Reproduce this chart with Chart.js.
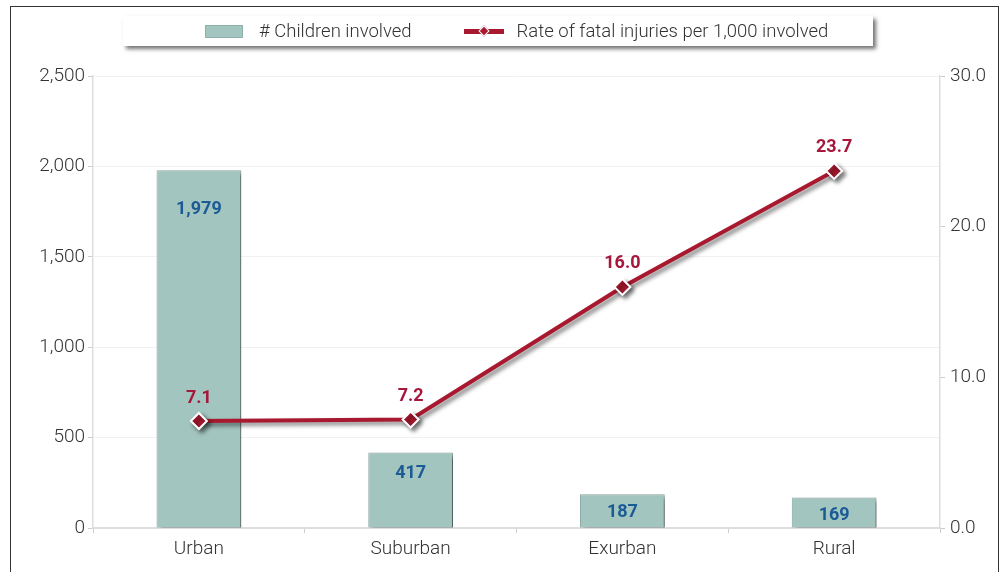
<!DOCTYPE html>
<html>
<head>
<meta charset="utf-8">
<script src="https://cdn.jsdelivr.net/npm/chart.js@4.4.1/dist/chart.umd.min.js"></script>
<style>
  body { margin: 0; background: #fff; font-family: Roboto, 'Noto Sans', sans-serif; }
  #wrap { position: relative; width: 1005px; height: 572px; overflow: hidden; }
  #frame { position: absolute; left: 10px; top: 6px; width: 989px; height: 600px; border: 1.5px solid #333; box-sizing: border-box; pointer-events: none; }
  #legend { position: absolute; left: 123px; top: 16px; width: 750px; height: 30px; background: #fff;
            box-shadow: 3px 3px 4px rgba(0,0,0,0.55); display: flex; align-items: center; padding-left: 82px; box-sizing: border-box;
            font-size: 18.5px; font-weight: 300; color: #333; white-space: nowrap; }
  .item { display: flex; align-items: center; margin-right: 52px; flex-shrink: 0; }
  .sw-bar { width: 36px; height: 11px; background: #a3c5bf; border: 1px solid #8fb0aa; margin-right: 16px; flex-shrink: 0; }
  .sw-line { position: relative; width: 40px; height: 5px; background: #a8192f; margin-right: 13px; flex-shrink: 0; }
  .sw-line::after { content: ''; position: absolute; left: 16px; top: -2px; width: 6px; height: 6px; background: #a8192f;
                    border: 1px solid #fff; transform: rotate(45deg); }
</style>
</head>
<body>
<div id="wrap">
  <canvas id="chart" width="1005" height="572"></canvas>
  <div id="legend"></div>
  <div id="frame"></div>
</div>
<script>
const categories = ['Urban', 'Suburban', 'Exurban', 'Rural'];
const childrenInvolved = [1979, 417, 187, 169];
const fatalRate = [7.1, 7.2, 16.0, 23.7];
const leftTicks = [0, 500, 1000, 1500, 2000, 2500];
const rightTicks = [0, 10, 20, 30];

const tealFill = '#a3c5bf';
const lineRed = '#a8192f';
const barLabelColor = '#1b5b95';
const lineLabelColor = '#a5173b';
const tickFont = { family: 'Roboto', size: 19, weight: '300' };

// drop shadow behind bars and the line
const shadowPlugin = {
    id: 'shadow',
    beforeDatasetDraw(chart) {
        const ctx = chart.ctx;
        ctx.save();
        ctx.shadowColor = 'rgba(0,0,0,0.5)';
        ctx.shadowBlur = 4;
        ctx.shadowOffsetX = 3;
        ctx.shadowOffsetY = 3;
    },
    afterDatasetDraw(chart) { chart.ctx.restore(); }
};

// value labels
const labelPlugin = {
    id: 'valueLabels',
    afterDatasetsDraw(chart) {
        const ctx = chart.ctx;
        ctx.save();
        ctx.textAlign = 'center';
        ctx.textBaseline = 'middle';
        ctx.font = "bold 18px Roboto";
        chart.data.datasets.forEach((ds, di) => {
            const meta = chart.getDatasetMeta(di);
            meta.data.forEach((el, i) => {
                const v = ds.data[i];
                if (ds.type === 'bar') {
                    const h = el.base - el.y;
                    const off = Math.max(18, Math.min(39, h * 0.28));
                    ctx.fillStyle = barLabelColor;
                    ctx.fillText(v.toLocaleString('en-US'), el.x, el.y + off);
                } else {
                    ctx.fillStyle = lineLabelColor;
                    ctx.fillText(v.toFixed(1), el.x, el.y - 23);
                }
            });
        });
        ctx.restore();
    }
};

const chart = new Chart(document.getElementById('chart'), {
    data: {
        labels: categories,
        datasets: [
            {
                type: 'line', label: 'Rate of fatal injuries per 1,000 involved', data: fatalRate, yAxisID: 'y1', order: 0,
                borderColor: lineRed, borderWidth: 4, pointStyle: 'rectRot', pointRadius: 8, pointHoverRadius: 8,
                pointBackgroundColor: lineRed, pointBorderColor: '#fff', pointBorderWidth: 2, tension: 0
            },
            {
                type: 'bar', label: '# Children involved', data: childrenInvolved, yAxisID: 'y', order: 1,
                backgroundColor: tealFill, borderColor: '#8eaca7', borderWidth: 1,
                barPercentage: 0.4, categoryPercentage: 1
            }
        ]
    },
    options: {
        responsive: false, animation: false,
        layout: { padding: { top: 76, left: 0, right: 0, bottom: 0 } },
        plugins: { legend: { display: false }, tooltip: { enabled: false } },
        scales: {
            x: {
                grid: { offset: true, drawOnChartArea: false, tickLength: 5, tickColor: '#ccc' },
                border: { color: '#ddd', width: 2 },
                ticks: { font: tickFont, color: '#333', padding: 5 },
                afterFit: s => { s.height = 44; }
            },
            y: {
                position: 'left', min: 0, max: 2500,
                afterBuildTicks: s => { s.ticks = leftTicks.map(v => ({ value: v })); },
                grid: { color: '#f1f1f1', tickLength: 5, tickColor: '#ccc' },
                border: { color: '#ddd', width: 1.5 },
                ticks: { font: tickFont, color: '#333', padding: 3, callback: v => v.toLocaleString('en-US') },
                afterFit: s => { s.width = 93; }
            },
            y1: {
                position: 'right', min: 0, max: 30,
                afterBuildTicks: s => { s.ticks = rightTicks.map(v => ({ value: v })); },
                grid: { drawOnChartArea: false, tickLength: 5, tickColor: '#ccc' },
                border: { color: '#ddd', width: 1.5 },
                ticks: { font: tickFont, color: '#333', padding: 5, callback: v => v.toFixed(1) },
                afterFit: s => { s.width = 65; }
            }
        }
    },
    plugins: [shadowPlugin, labelPlugin]
});

// html legend built from the datasets
const legend = document.getElementById('legend');
[1, 0].forEach(i => {
    const ds = chart.data.datasets[i];
    const item = document.createElement('div');
    item.className = 'item';
    const sw = document.createElement('span');
    sw.className = ds.type === 'bar' ? 'sw-bar' : 'sw-line';
    const txt = document.createElement('span');
    txt.textContent = ds.label;
    item.appendChild(sw);
    item.appendChild(txt);
    legend.appendChild(item);
});
</script>
</body>
</html>
